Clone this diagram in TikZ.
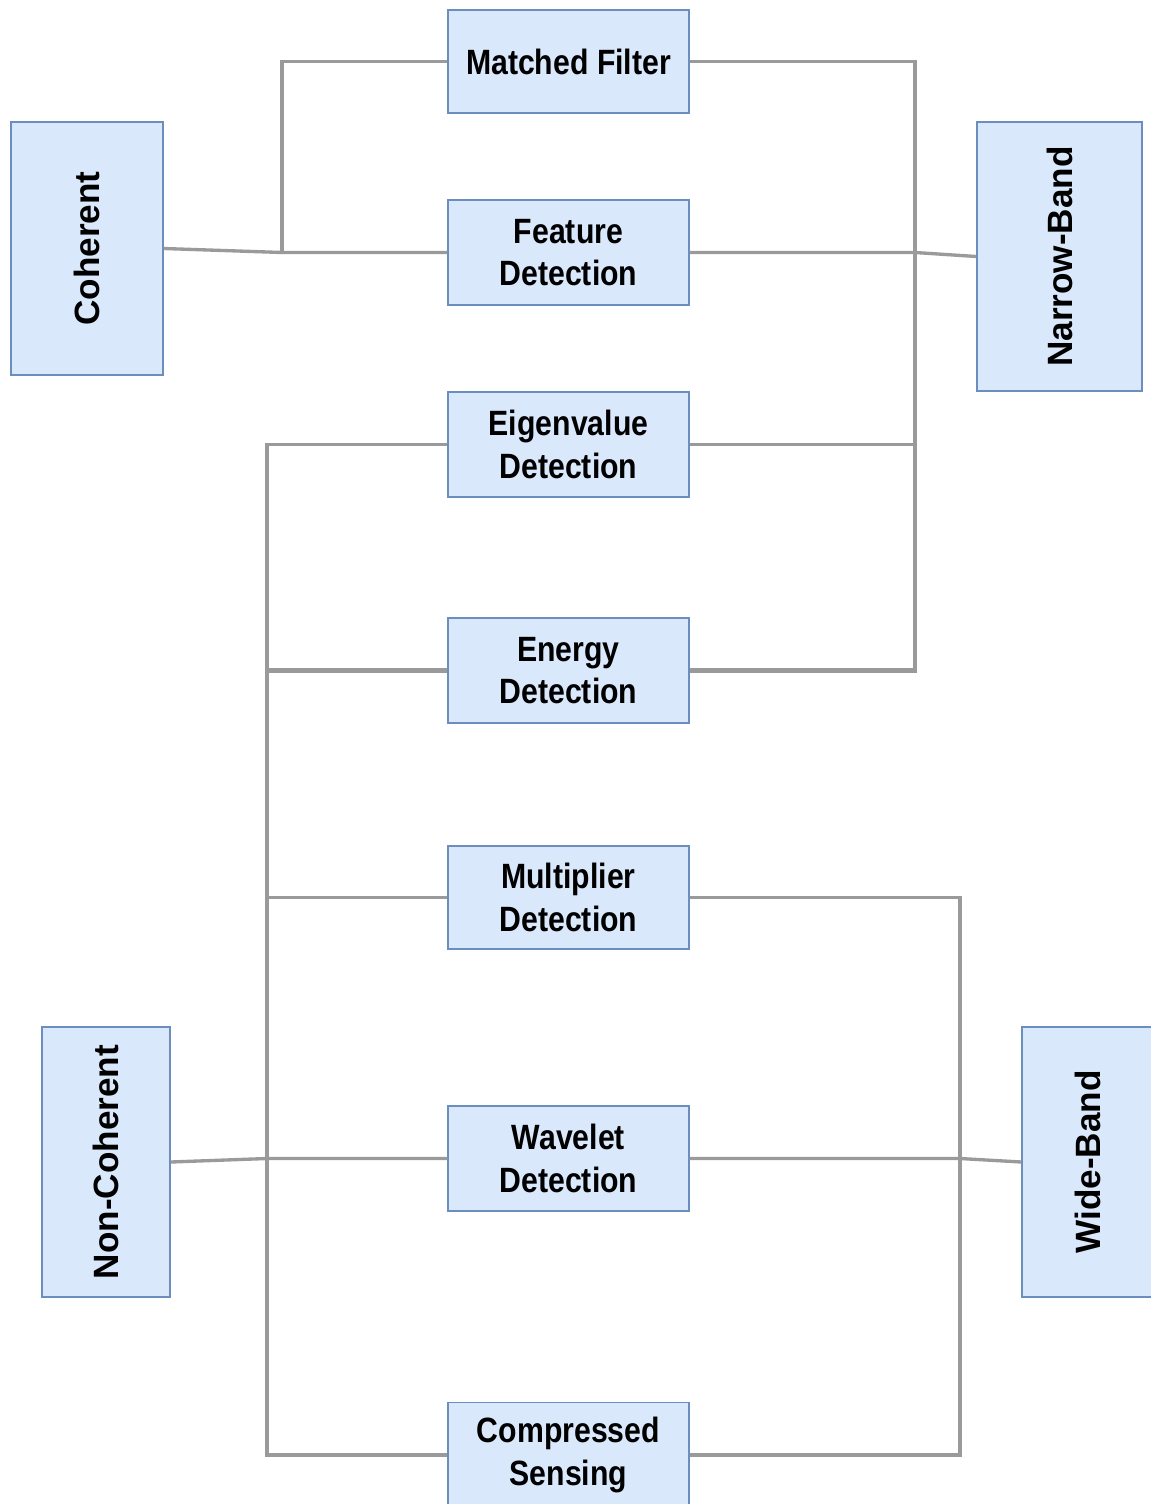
\documentclass[tikz,border=0pt]{standalone}
\usepackage{fontspec}
\setmainfont{Liberation Sans}
\newfontfamily\narrowfont{Liberation Sans}[FakeStretch=0.86]
\definecolor{boxfill}{HTML}{DAE8FC}
\definecolor{boxline}{HTML}{6C8EBF}
\definecolor{linkgray}{HTML}{9A9A9A}

\begin{document}
\begin{tikzpicture}[x=0.02cm,y=-0.02cm,
  method/.style={draw=boxline,fill=boxfill,line width=0.8pt,
    minimum width=4.82cm,minimum height=2.1cm,align=center,
    font=\narrowfont\bfseries\fontsize{20}{24}\selectfont},
  sidebox/.style={draw=boxline,fill=boxfill,line width=0.8pt},
  vlabel/.style={rotate=90,font=\bfseries\fontsize{20}{24}\selectfont},
  link/.style={draw=linkgray,line width=1.9pt},
  heavy/.style={draw=linkgray,line width=2.8pt}]
\useasboundingbox (0,0) rectangle (1151,1504);
%draw method boxes:
\node[method,minimum height=2.06cm] (mf) at (568.5,61.5) {Matched Filter};
\node[method] (feat) at (568.5,252.5) {Feature\\Detection};
\node[method] (eig) at (568.5,444.5) {Eigenvalue\\Detection};
\node[method] (en) at (568.5,670.5) {Energy\\Detection};
\node[method,minimum height=2.06cm] (mul) at (568.5,897.5) {Multiplier\\Detection};
\node[method] (wav) at (568.5,1158.5) {Wavelet\\Detection};
\node[method] (cs) at (568.5,1455) {Compressed\\Sensing};
%draw side boxes:
\node[sidebox,minimum width=3.04cm,minimum height=5.06cm,
  label={[vlabel]center:Coherent}] (coh) at (87,248.5) {};
\node[sidebox,minimum width=3.3cm,minimum height=5.38cm,
  label={[vlabel]center:Narrow-Band}] (nar) at (1059.5,256.5) {};
\node[sidebox,minimum width=2.56cm,minimum height=5.4cm,
  label={[vlabel]center:Non-Coherent}] (ncoh) at (106,1162) {};
\node[sidebox,minimum width=2.64cm,minimum height=5.4cm,
  label={[vlabel]center:Wide-Band}] (wide) at (1088,1162) {};
%bus corners:
\coordinate (cj) at (282,252.5);
\coordinate (nb) at (915,670.5);
\coordinate (lb) at (267,1455);
\coordinate (rb) at (960,1455);
%coherent side:
\draw[link] (coh.east) -- (cj) -- (feat.west);
\draw[link] (mf.west) -| (cj);
%narrow-band side:
\draw[link] (mf.east) -| (eig.east -| nb);
\draw[link] (eig.east) -- (eig.east -| nb);
\draw[heavy] (eig.east -| nb) -- (nb) -- (en.east);
\draw[link] (feat.east) -- (feat.east -| nb) -- (nar.west);
%non-coherent side:
\draw[link] (eig.west) -| (lb) -- (cs.west);
\draw[heavy] (en.west) -- (en.west -| lb);
\draw[link] (mul.west) -- (mul.west -| lb);
\draw[link] (wav.west) -- (wav.west -| lb) -- (ncoh.east);
%wide-band side:
\draw[link] (mul.east) -| (rb) -- (cs.east);
\draw[link] (wav.east) -- (wav.east -| rb) -- (wide.west);
\end{tikzpicture}
\end{document}
